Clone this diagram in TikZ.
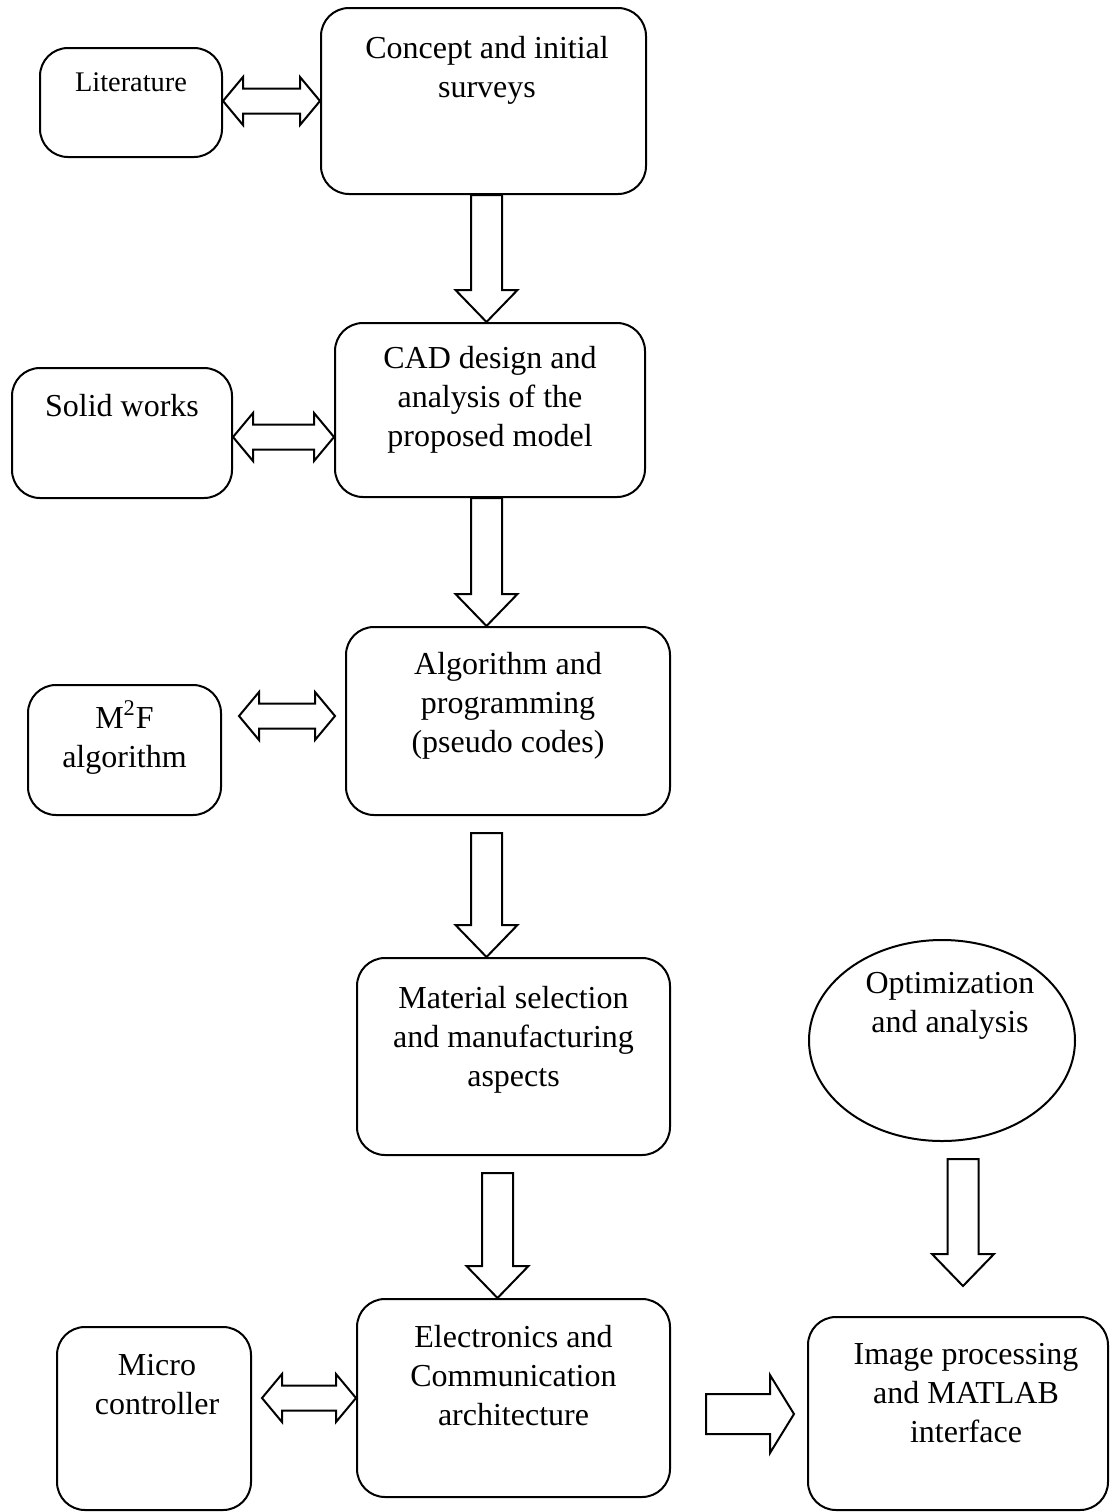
\documentclass[tikz,border=0pt]{standalone}
\usepackage{fontspec}
\setmainfont{Liberation Serif}
\usetikzlibrary{calc,shapes.geometric}
\begin{document}
\begin{tikzpicture}[x=0.5pt,y=-0.5pt,
  box/.style={draw, line width=1pt, rounded corners=14pt, inner sep=0pt},
  oval/.style={draw, line width=1pt, ellipse, inner sep=0pt},
  txt/.style={align=center, inner sep=0pt, anchor=base, font=\fontsize{16}{19.5}\selectfont},
  smalltxt/.style={txt, font=\fontsize{14.2}{17}\selectfont},
  blk/.style={draw, line width=1pt, fill=white},
  dblarrow/.style={to path={let \p1=(\tikztostart), \p2=(\tikztotarget) in
    (\x1,\y1) -- (\x1+10pt,\y1+12pt) -- (\x1+10pt,\y1+6.25pt) -- (\x2-10pt,\y1+6.25pt)
    -- (\x2-10pt,\y1+12pt) -- (\x2,\y1) -- (\x2-10pt,\y1-12pt) -- (\x2-10pt,\y1-6.25pt)
    -- (\x1+10pt,\y1-6.25pt) -- (\x1+10pt,\y1-12pt) -- cycle}},
  downarr/.style={to path={let \p1=(\tikztostart), \p2=(\tikztotarget) in
    (\x1-7.75pt,\y1) -- (\x1+7.75pt,\y1) -- (\x1+7.75pt,\y2+16pt) -- (\x1+15.5pt,\y2+16pt)
    -- (\x1,\y2) -- (\x1-15.5pt,\y2+16pt) -- (\x1-7.75pt,\y2+16pt) -- cycle}},
  rightarr/.style={to path={let \p1=(\tikztostart), \p2=(\tikztotarget) in
    (\x1,\y1+10pt) -- (\x2-12pt,\y1+10pt) -- (\x2-12pt,\y1+19.5pt) -- (\x2,\y1)
    -- (\x2-12pt,\y1-19.5pt) -- (\x2-12pt,\y1-10pt) -- (\x1,\y1-10pt) -- cycle}}
]
\useasboundingbox (0,0) rectangle (1120,1512);

% boxes
\node[box, minimum width=91pt,  minimum height=54.5pt] (lit)     at (131,102.5) {};
\node[box, minimum width=162.5pt, minimum height=93pt] (concept) at (483.5,101) {};
\node[box, minimum width=110pt, minimum height=65pt]   (solid)   at (122,433) {};
\node[box, minimum width=155pt, minimum height=87pt]   (cad)     at (490,410) {};
\node[box, minimum width=96.5pt, minimum height=65pt]  (m2f)     at (124.5,750) {};
\node[box, minimum width=162pt, minimum height=94pt]   (algo)    at (508,721) {};
\node[box, minimum width=156.5pt, minimum height=98.5pt] (mat)   at (513.5,1056.5) {};
\node[oval, minimum width=133pt, minimum height=100.5pt] (opt)   at (942,1040.5) {};
\node[box, minimum width=156.5pt, minimum height=99pt] (elec)    at (513.5,1398) {};
\node[box, minimum width=97pt, minimum height=91.5pt]  (micro)   at (154,1418.5) {};
\node[box, minimum width=150pt, minimum height=96.5pt] (img)     at (958,1413.5) {};

% texts (anchored at the baseline of the last line)
\node[smalltxt] (litT) at (131,91) {Literature};
\node[txt] (conceptT) at (487,97) {Concept and initial\\surveys};
\node[txt] (solidT) at (122,416) {Solid works};
\node[txt] (cadT) at (490,446) {CAD design and\\analysis of the\\proposed model};
\node[txt] (m2fT) at (124.5,767) {M\textsuperscript{2}F\\algorithm};
\node[txt] (algoT) at (508,752) {Algorithm and\\programming\\(pseudo codes)};
\node[txt] (matT) at (513.5,1086) {Material selection\\and manufacturing\\aspects};
\node[txt] (optT) at (950,1032) {Optimization\\and analysis};
\node[txt] (elecT) at (513.5,1425) {Electronics and\\Communication\\architecture};
\node[txt] (microT) at (157,1414) {Micro\\controller};
\node[txt] (imgT) at (966,1442) {Image processing\\and MATLAB\\interface};

% double arrows
\draw[blk] ([yshift=0.75pt]lit.east) to[dblarrow] ([yshift=0.75pt]concept.west);
\draw[blk] ([yshift=-2pt]solid.east) to[dblarrow] ([yshift=-2pt]cad.west);
\draw[blk] ([xshift=8.5pt,yshift=17pt]m2f.east) to[dblarrow] ([xshift=-5pt,yshift=17pt]algo.west);
\draw[blk] ([xshift=5pt,yshift=10.25pt]micro.east) to[dblarrow] ([yshift=10.25pt]elec.west);

% down arrows
\draw[blk] ([xshift=1.5pt]concept.south) to[downarr] (cad.north);
\draw[blk] ([xshift=-1.75pt]cad.south) to[downarr] (algo.north);
\draw[blk] ([xshift=-10.75pt,yshift=-8.5pt]algo.south) to[downarr] (mat.north);
\draw[blk] ([xshift=-8pt,yshift=-8.5pt]mat.south) to[downarr] (elec.north);
\draw[blk] ([xshift=10.5pt,yshift=-8.5pt]opt.south) to[downarr] ([yshift=15pt]img.north);

% right arrow
\draw[blk] ([xshift=17.5pt,yshift=-8pt]elec.east) to[rightarr] ([xshift=-6.5pt,yshift=-8pt]img.west);
\end{tikzpicture}
\end{document}
